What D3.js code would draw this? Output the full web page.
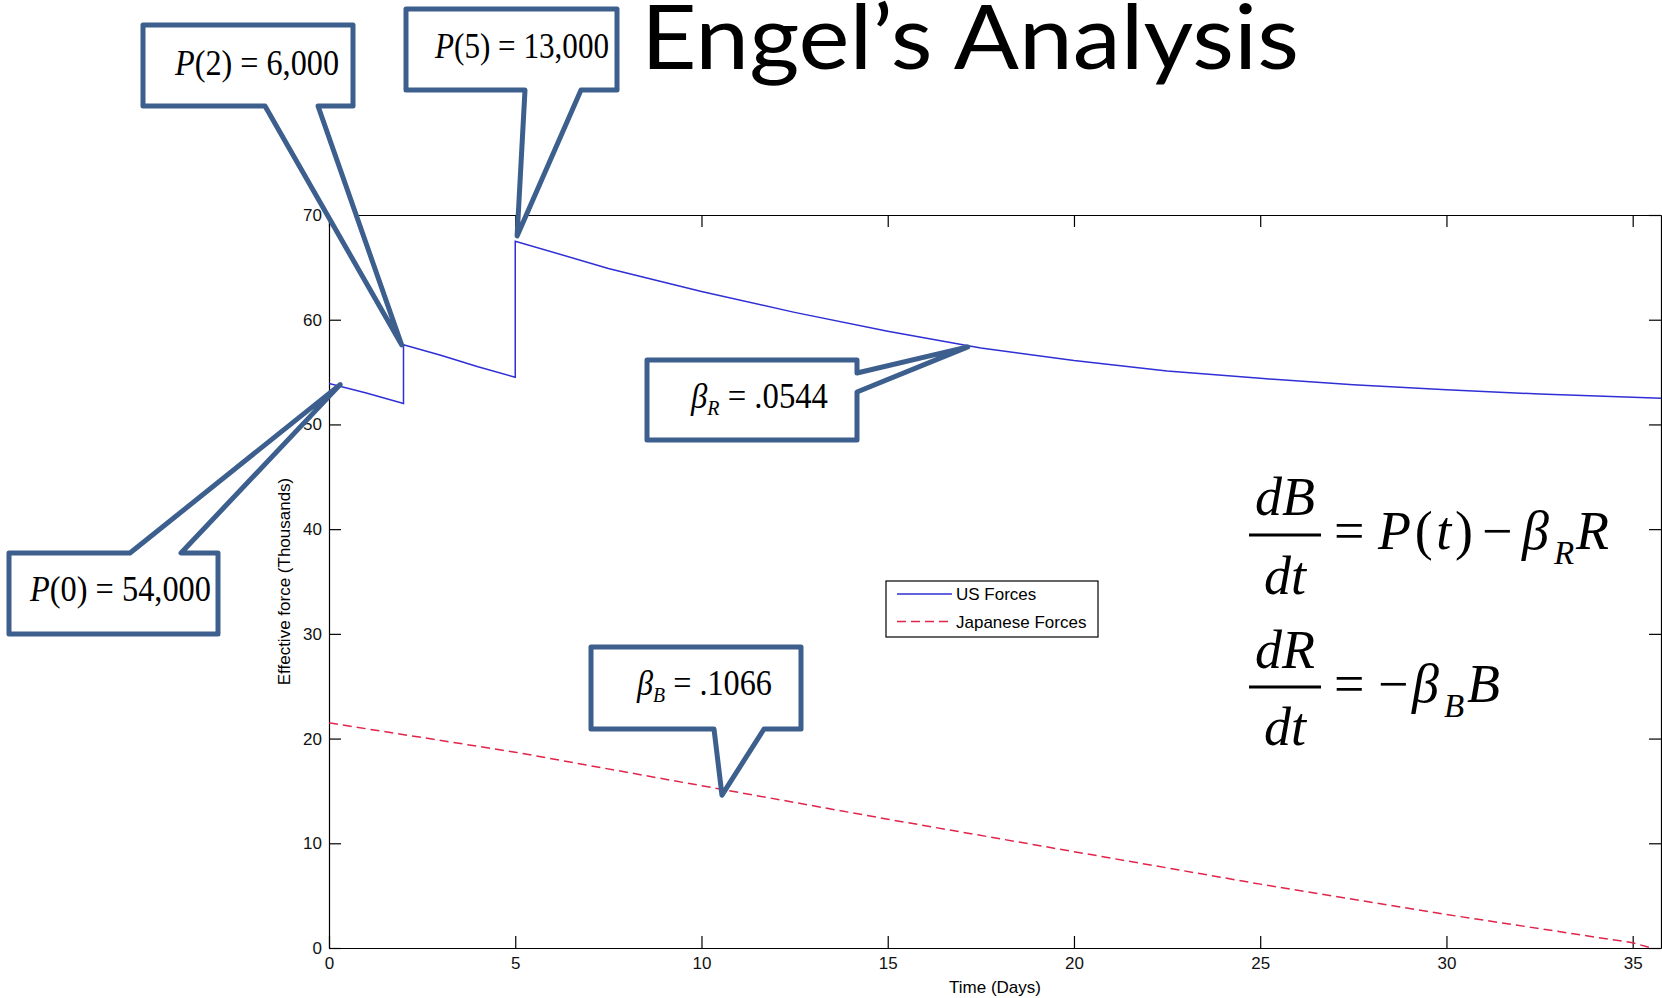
<!DOCTYPE html>
<html>
<head>
<meta charset="utf-8">
<script src="https://cdn.jsdelivr.net/npm/d3@7"></script>
<style>
  body { margin: 0; background: #fff; }
  svg { display: block; }
</style>
</head>
<body>
<div id="container"></div>
<script>
// values (thousands)
const usTime   = [0, 1, 2, 2, 3, 4, 5, 5, 7.5, 10, 12.5, 15, 17.5, 20, 22.5, 25, 27.5, 30, 32.5, 35, 35.8];
const usForces = [53.9, 53.0, 52.0, 57.6, 56.6, 55.5, 54.5, 67.5, 64.9, 62.7, 60.7, 58.9, 57.3, 56.1, 55.1, 54.4, 53.8, 53.3, 52.9, 52.6, 52.5];
const jpTime   = [0, 5, 10, 15, 20, 25, 30, 35, 35.5];
const jpForces = [21.5, 18.7, 15.5, 12.3, 9.2, 6.1, 3.2, 0.5, 0];
const xTicks = [0, 5, 10, 15, 20, 25, 30, 35];
const yTicks = [0, 10, 20, 30, 40, 50, 60, 70];
const seriesNames = ["US Forces", "Japanese Forces"];

const W = 1662, H = 998;
const blue = "#2f2fd6", red = "#e0244a", calloutBlue = "#3c5f8e";
const mFont = "'Liberation Sans', Arial, sans-serif";
const serif = "'Liberation Serif', 'Times New Roman', serif";

const svg = d3.select("#container").append("svg")
  .attr("width", W).attr("height", H);

const x = d3.scaleLinear().domain([0, 35.76]).range([329, 1661]);
const y = d3.scaleLinear().domain([0, 70]).range([948, 215]);

// title
svg.append("text")
  .attr("x", 641).attr("y", 69)
  .attr("font-family", "Lato, 'Open Sans', sans-serif")
  .attr("font-size", 90)
  .attr("textLength", 658).attr("lengthAdjust", "spacingAndGlyphs")
  .text("Engel’s Analysis");

// axes (MATLAB style box, inward ticks)
const axisStyle = g => {
  g.selectAll("path.domain").attr("stroke", "#000").attr("stroke-width", 1.2);
  g.selectAll(".tick line").attr("stroke", "#000").attr("stroke-width", 1.2);
  g.selectAll("text").attr("font-family", mFont).attr("font-size", 17).attr("fill", "#111");
};
svg.append("g").attr("transform", `translate(0,${y(0)})`)
  .call(d3.axisBottom(x).tickValues(xTicks).tickSize(-12).tickSizeOuter(0).tickPadding(9))
  .call(axisStyle);
svg.append("g").attr("transform", `translate(0,${y(70)})`)
  .call(d3.axisTop(x).tickValues(xTicks).tickSize(-12).tickSizeOuter(0).tickFormat(""))
  .call(axisStyle);
svg.append("g").attr("transform", `translate(${x(0)},0)`)
  .call(d3.axisLeft(y).tickValues(yTicks).tickSize(-12).tickSizeOuter(0).tickPadding(7))
  .call(axisStyle);
svg.append("g").attr("transform", `translate(${x.range()[1]},0)`)
  .call(d3.axisRight(y).tickValues(yTicks).tickSize(-12).tickSizeOuter(0).tickFormat(""))
  .call(axisStyle);

svg.append("text")
  .attr("x", (x.range()[0] + x.range()[1]) / 2).attr("y", 993)
  .attr("text-anchor", "middle")
  .attr("font-family", mFont).attr("font-size", 17)
  .text("Time (Days)");
svg.append("text")
  .attr("transform", `translate(290,${(y(0) + y(70)) / 2}) rotate(-90)`)
  .attr("text-anchor", "middle")
  .attr("font-family", mFont).attr("font-size", 17)
  .text("Effective force (Thousands)");

// lines
svg.append("clipPath").attr("id", "plot")
  .append("rect").attr("x", x(0)).attr("y", y(70)).attr("width", x.range()[1] - x(0)).attr("height", y(0) - y(70));

const line = d3.line().x(d => x(d[0])).y(d => y(d[1]));
const usData = usTime.map((t, i) => [t, usForces[i]]);
const jpData = jpTime.map((t, i) => [t, jpForces[i]]);

svg.append("path").attr("clip-path", "url(#plot)")
  .attr("d", line(usData))
  .attr("fill", "none").attr("stroke", blue).attr("stroke-width", 1.5);
svg.append("path").attr("clip-path", "url(#plot)")
  .attr("d", line(jpData))
  .attr("fill", "none").attr("stroke", red).attr("stroke-width", 1.5)
  .attr("stroke-dasharray", "9,5");

// legend
const lg = svg.append("g");
lg.append("rect").attr("x", 886).attr("y", 581).attr("width", 212).attr("height", 56)
  .attr("fill", "#fff").attr("stroke", "#000").attr("stroke-width", 1.2);
seriesNames.forEach((name, i) => {
  const ly = 594 + i * 27.5;
  lg.append("line").attr("x1", 897).attr("x2", 952).attr("y1", ly).attr("y2", ly)
    .attr("stroke", i ? red : blue).attr("stroke-width", 1.5)
    .attr("stroke-dasharray", i ? "9,5" : null);
  lg.append("text").attr("x", 956).attr("y", ly).attr("dy", "0.36em")
    .attr("font-family", mFont).attr("font-size", 17).text(name);
});

// callouts
const callouts = [
  { box: [9, 553, 209, 81], side: "top", a: 130, b: 181, tip: [0.3, 53.8],
    parts: [["P", 1], ["(0) = 54,000", 0]], tx: 30, ty: 601, tw: 181 },
  { box: [143, 25, 210, 81], side: "bottom", a: 265, b: 318, tip: [1.95, 57.6],
    parts: [["P", 1], ["(2) = 6,000", 0]], tx: 175, ty: 75, tw: 164 },
  { box: [406, 9, 211, 81], side: "bottom", a: 525, b: 581, tip: [5.05, 68.0],
    parts: [["P", 1], ["(5) = 13,000", 0]], tx: 435, ty: 58, tw: 174 },
  { box: [647, 360, 210, 80], side: "right", a: 373, b: 392, tip: [17.15, 57.4],
    parts: [["β", 1], ["R", 2], [" = .0544", 0]], tx: 691, ty: 408, tw: 137 },
  { box: [591, 647, 210, 82], side: "bottom", a: 714, b: 764, tip: [10.55, 14.6],
    parts: [["β", 1], ["B", 2], [" = .1066", 0]], tx: 637, ty: 695, tw: 135 }
];

const cg = svg.append("g");
callouts.forEach(c => {
  const [bx, by, bw, bh] = c.box;
  const px = x(c.tip[0]), py = y(c.tip[1]);
  const p = d3.path();
  if (c.side === "bottom") {
    p.moveTo(bx, by); p.lineTo(bx + bw, by); p.lineTo(bx + bw, by + bh);
    p.lineTo(c.b, by + bh); p.lineTo(px, py); p.lineTo(c.a, by + bh);
    p.lineTo(bx, by + bh); p.closePath();
  } else if (c.side === "top") {
    p.moveTo(bx, by); p.lineTo(c.a, by); p.lineTo(px, py); p.lineTo(c.b, by);
    p.lineTo(bx + bw, by); p.lineTo(bx + bw, by + bh); p.lineTo(bx, by + bh); p.closePath();
  } else {
    p.moveTo(bx, by); p.lineTo(bx + bw, by); p.lineTo(bx + bw, c.a); p.lineTo(px, py);
    p.lineTo(bx + bw, c.b); p.lineTo(bx + bw, by + bh); p.lineTo(bx, by + bh); p.closePath();
  }
  cg.append("path").attr("d", p.toString())
    .attr("fill", "#fff").attr("stroke", calloutBlue).attr("stroke-width", 5)
    .attr("stroke-linejoin", "round");

  const t = cg.append("text").attr("x", c.tx).attr("y", c.ty)
    .attr("font-family", serif).attr("font-size", 36)
    .attr("textLength", c.tw).attr("lengthAdjust", "spacingAndGlyphs");
  let shifted = false;
  c.parts.forEach(([s, kind]) => {
    const ts = t.append("tspan").text(s);
    if (kind === 1) ts.attr("font-style", "italic");
    if (kind === 2) { ts.attr("font-style", "italic").attr("font-size", 22).attr("dy", 7); shifted = true; }
    else if (shifted) { ts.attr("dy", -7); shifted = false; }
  });
});

// equations
const eq = svg.append("g").attr("font-family", serif).attr("font-size", 54).attr("fill", "#000");
const frac = (cx, top, bar, bottom, w) => {
  eq.append("text").attr("x", cx).attr("y", top).attr("text-anchor", "middle")
    .attr("font-style", "italic").text(w[0]);
  eq.append("line").attr("x1", cx - 36).attr("x2", cx + 36).attr("y1", bar).attr("y2", bar)
    .attr("stroke", "#000").attr("stroke-width", 2.8);
  eq.append("text").attr("x", cx).attr("y", bottom).attr("text-anchor", "middle")
    .attr("font-style", "italic").text(w[1]);
};
frac(1285, 515, 535, 594, ["dB", "dt"]);
frac(1285, 668, 687, 745, ["dR", "dt"]);

const piece = (xx, yy, s, opts = {}) => {
  const t = eq.append("text").attr("x", xx).attr("y", yy).text(s);
  if (opts.italic) t.attr("font-style", "italic");
  if (opts.size) t.attr("font-size", opts.size);
  return t;
};
// first: = P(t) − β_R R
piece(1334, 549, "=");
const pt = eq.append("text").attr("x", 1378).attr("y", 549)
  .attr("textLength", 95).attr("lengthAdjust", "spacing");
pt.append("tspan").attr("font-style", "italic").text("P");
pt.append("tspan").text("(");
pt.append("tspan").attr("font-style", "italic").text("t");
pt.append("tspan").text(")");
piece(1482, 549, "−");
piece(1522, 549, "β", { italic: true });
piece(1554, 564, "R", { italic: true, size: 33 });
piece(1576, 549, "R", { italic: true });
// second: = −β_B B
piece(1334, 702, "=");
piece(1378, 702, "−");
piece(1412, 702, "β", { italic: true });
piece(1444, 717, "B", { italic: true, size: 33 });
piece(1467, 702, "B", { italic: true });
</script>
</body>
</html>
